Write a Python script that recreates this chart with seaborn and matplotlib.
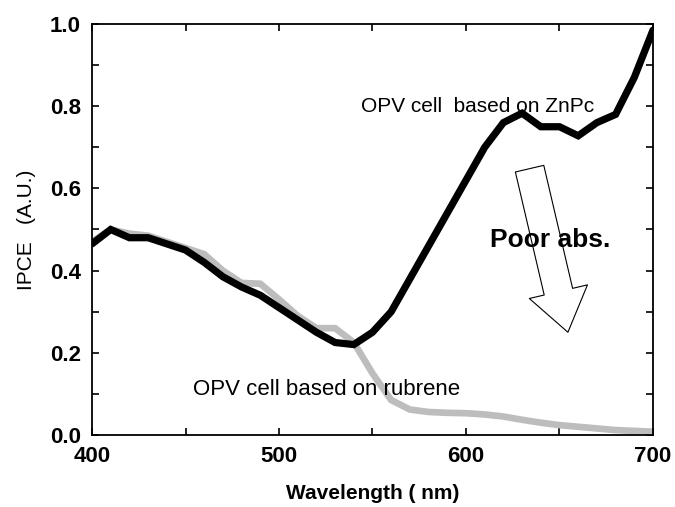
import numpy as np
import matplotlib
matplotlib.use('Agg')
import matplotlib.pyplot as plt
from matplotlib.ticker import MultipleLocator
import pandas as pd
import seaborn as sns

sns.set_style("ticks")
plt.rcParams['font.family'] = ['Liberation Sans', 'DejaVu Sans']
plt.rcParams['text.color'] = 'black'
plt.rcParams['axes.labelcolor'] = 'black'
plt.rcParams['axes.edgecolor'] = 'black'
plt.rcParams['xtick.color'] = 'black'
plt.rcParams['ytick.color'] = 'black'

# wavelength (nm)
wavelength = [400, 410, 420, 430, 440, 450, 460, 470, 480, 490, 500, 510, 520, 530,
              540, 550, 560, 570, 580, 590, 600, 610, 620, 630, 640, 650, 660, 670,
              680, 690, 700]
# IPCE, OPV cell based on ZnPc
ipce_znpc = [0.465, 0.50, 0.48, 0.48, 0.465, 0.45, 0.42, 0.385, 0.36, 0.34, 0.31,
             0.28, 0.25, 0.225, 0.22, 0.25, 0.30, 0.38, 0.46, 0.54, 0.62, 0.70,
             0.76, 0.783, 0.75, 0.75, 0.728, 0.76, 0.78, 0.87, 0.985]
# IPCE, OPV cell based on rubrene
ipce_rubrene = [0.47, 0.50, 0.49, 0.485, 0.47, 0.455, 0.44, 0.40, 0.37, 0.368, 0.33,
                0.29, 0.26, 0.26, 0.225, 0.15, 0.085, 0.062, 0.056, 0.054, 0.053,
                0.05, 0.045, 0.037, 0.03, 0.024, 0.02, 0.016, 0.012, 0.01, 0.008]

df = pd.DataFrame({'wl': wavelength, 'znpc': ipce_znpc, 'rub': ipce_rubrene})

fig = plt.figure(figsize=(6.75, 5.07), dpi=100)
ax = fig.add_axes([0.1363, 0.142, 0.8311, 0.8107])

sns.lineplot(data=df, x='wl', y='rub', ax=ax, color='#bdbdbd', linewidth=4.8,
             solid_joinstyle='miter')
sns.lineplot(data=df, x='wl', y='znpc', ax=ax, color='black', linewidth=5.2,
             solid_joinstyle='miter')

ax.set_xlim(400, 700)
ax.set_ylim(0, 1.0)
ax.xaxis.set_major_locator(MultipleLocator(100))
ax.xaxis.set_minor_locator(MultipleLocator(50))
ax.yaxis.set_major_locator(MultipleLocator(0.2))
ax.yaxis.set_minor_locator(MultipleLocator(0.1))
ax.xaxis.set_major_formatter(matplotlib.ticker.FormatStrFormatter('%d'))
ax.yaxis.set_major_formatter(matplotlib.ticker.FormatStrFormatter('%.1f'))
ax.tick_params(which='both', direction='in', top=True, right=True, length=5,
               width=1.2)
ax.tick_params(axis='both', labelsize=16, pad=8)
for lab in ax.get_xticklabels() + ax.get_yticklabels():
    lab.set_fontweight('bold')
for s in ax.spines.values():
    s.set_linewidth(1.3)
    s.set_visible(True)

ax.set_xlabel('Wavelength ( nm)', fontsize=15, fontweight='bold', labelpad=12)
ax.set_ylabel('IPCE   (A.U.)', fontsize=15, labelpad=10)

ax.text(544, 0.80, 'OPV cell  based on ZnPc', fontsize=15, va='center', ha='left')
ax.text(454, 0.11, 'OPV cell based on rubrene', fontsize=16, va='center', ha='left')
ax.text(613, 0.475, 'Poor abs.', fontsize=19, fontweight='bold', va='center',
        ha='left')

ax.annotate('', xy=(654.5, 0.25), xytext=(634, 0.648),
            arrowprops=dict(arrowstyle='simple,head_length=30,head_width=43,tail_width=21',
                            mutation_scale=1, fc='none', ec='black', lw=0.8,
                            shrinkA=0, shrinkB=0))

fig.savefig('out.png', dpi=100)
